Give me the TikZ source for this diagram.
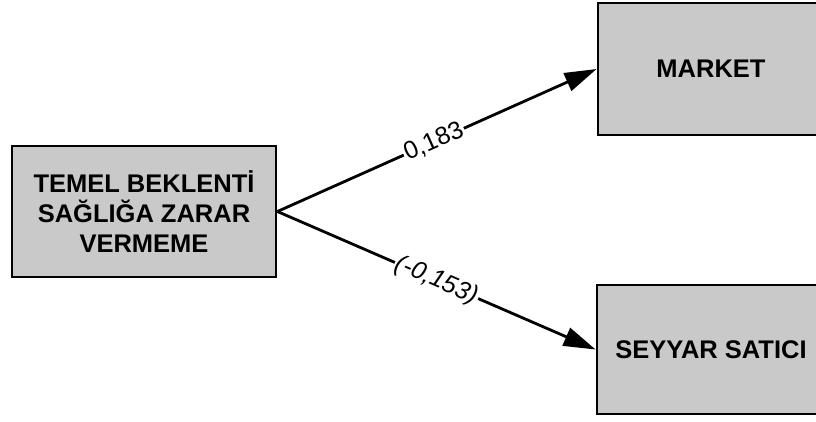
\documentclass[tikz,border=0pt]{standalone}
\usepackage{fontspec}
\setmainfont{Liberation Sans}
\usetikzlibrary{arrows.meta}
\begin{document}
\begin{tikzpicture}[x=1pt,y=-1pt,
  box/.style={draw=black, line width=2.8pt, fill=gray!42, inner sep=0pt,
    font=\fontsize{25.5}{30}\selectfont\bfseries, align=center},
  conn/.style={line width=2.8pt, -{Triangle[length=32pt,width=19pt]}},
  lbl/.style={sloped, fill=white, inner sep=1.5pt, font=\fontsize{25}{28}\selectfont}
]
\useasboundingbox (0,0) rectangle (816,421);
\clip (0,0) rectangle (816,421);
\node[box, minimum width=264pt, minimum height=131pt] (src) at (144,211.5)
  {TEMEL BEKLENTİ\\SAĞLIĞA ZARAR\\VERMEME};
\node[box, minimum width=226pt, minimum height=132pt] (mk) at (711,69) {MARKET};
\node[box, minimum width=228pt, minimum height=129pt] (sv) at (711,349.5) {SEYYAR SATICI};
\draw[conn] (src.east) -- node[lbl, pos=0.49] (l1) {0,183} (mk.west);
\draw[conn] (src.east) -- node[lbl, pos=0.5] (l2) {\itshape(-0,153)} (sv.west);
\end{tikzpicture}
\end{document}
